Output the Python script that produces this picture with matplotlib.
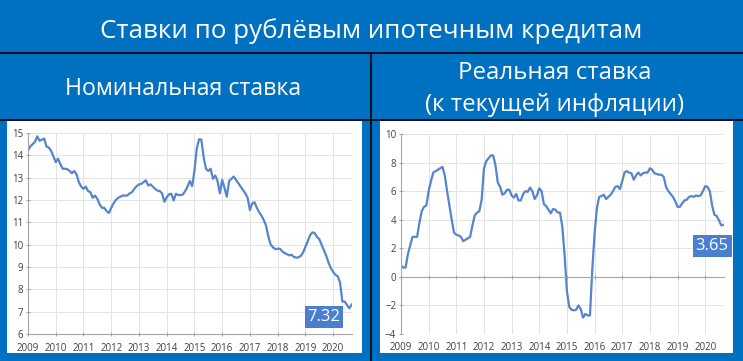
import numpy as np
import matplotlib
matplotlib.use("Agg")
import matplotlib.pyplot as plt
from matplotlib.patches import Rectangle
from matplotlib.lines import Line2D

# monthly data, Jan 2009 .. Sep 2020
nominal = [
    14.22, 14.4, 14.5, 14.6, 14.85, 14.65, 14.7, 14.75, 14.4, 14.35, 14.2, 13.95,
    13.7, 13.85, 13.6, 13.4, 13.4, 13.38, 13.3, 13.2, 13.3, 13.15, 12.8, 12.6,
    12.5, 12.6, 12.4, 12.35, 12.1, 12.2, 12.05, 11.8, 11.65, 11.65, 11.5, 11.42,
    11.65, 11.85, 12.0, 12.1, 12.15, 12.2, 12.2, 12.2, 12.3, 12.35, 12.5, 12.62,
    12.7, 12.72, 12.8, 12.88, 12.65, 12.7, 12.6, 12.5, 12.42, 12.4, 12.3, 11.92,
    12.12, 12.25, 12.28, 11.98, 12.28, 12.22, 12.22, 12.25, 12.4, 12.6, 12.85, 12.62,
    13.3, 14.3, 14.72, 14.7, 13.9, 13.4, 13.3, 13.4, 12.95, 13.1, 12.85, 12.3,
    12.9, 12.55, 12.15, 12.85, 12.95, 13.05, 12.9, 12.75, 12.6, 12.45, 12.3, 12.1,
    11.55, 11.85, 11.9, 11.65, 11.45, 11.3, 11.1, 10.85, 10.35, 10.0, 9.88, 9.8,
    9.82, 9.82, 9.7, 9.62, 9.58, 9.52, 9.55, 9.45, 9.42, 9.43, 9.5, 9.65,
    9.9, 10.15, 10.42, 10.55, 10.52, 10.35, 10.25, 10.0, 9.75, 9.5, 9.2, 8.95,
    8.78, 8.65, 8.58, 8.3, 7.45, 7.45, 7.3, 7.15, 7.32,
]
real = [
    0.8, 0.65, 0.65, 1.6, 2.2, 2.8, 2.8, 2.8, 3.8, 4.6, 4.9, 5.0,
    6.0, 6.7, 7.3, 7.4, 7.5, 7.6, 7.7, 7.1, 6.0, 5.0, 4.0, 3.1,
    2.95, 2.9, 2.8, 2.5, 2.6, 2.7, 2.8, 3.6, 4.3, 4.5, 4.6, 5.4,
    7.6, 8.1, 8.3, 8.5, 8.5, 7.8, 6.6, 6.3, 5.75, 5.85, 6.1, 6.1,
    5.7, 5.55, 5.8, 5.35, 5.35, 5.8, 6.0, 5.95, 6.25, 6.0, 5.45, 5.7,
    6.2, 6.0, 5.1, 4.95, 4.7, 4.45, 4.75, 4.7, 4.5, 4.5, 3.5, 1.5,
    -1.0, -2.1, -2.3, -2.35, -2.3, -2.0, -2.25, -2.85, -2.6, -2.7, -2.7, 0.5,
    3.0, 4.8, 5.6, 5.65, 5.75, 5.45, 5.6, 5.75, 6.0, 6.3, 6.35, 6.15,
    6.7, 7.3, 7.4, 7.3, 7.25, 6.8, 7.1, 7.3, 7.1, 7.25, 7.3, 7.3,
    7.6, 7.5, 7.25, 7.2, 7.15, 7.15, 7.0, 6.3, 6.0, 5.8, 5.6, 5.3,
    4.9, 4.9, 5.15, 5.35, 5.4, 5.6, 5.65, 5.6, 5.7, 5.65, 5.7, 6.0,
    6.35, 6.3, 6.0, 5.0, 4.35, 4.25, 3.95, 3.6, 3.65,
]
years = list(range(2009, 2021))
start_year = 2009

title = "Ставки по рублёвым ипотечным кредитам"
left_title = "Номинальная ставка"
right_title = "Реальная ставка\n(к текущей инфляции)"

BLUE_BG = "#0070C0"
LINE = "#5585CC"
W, H = 743, 361

plt.rcParams["font.family"] = ["Open Sans", "DejaVu Sans"]

fig = plt.figure(figsize=(W / 100, H / 100), dpi=100)
fig.patch.set_facecolor(BLUE_BG)


def px_rect(x0, y0, x1, y1):
    # pixel box (top-left origin) -> figure fraction [l, b, w, h]
    return [x0 / W, (H - y1) / H, (x1 - x0) / W, (y1 - y0) / H]


# white chart panels
for x0, x1 in [(7, 362), (380, 733)]:
    l, b, w, h = px_rect(x0, 121, x1, 353)
    fig.patches.append(Rectangle((l, b), w, h, transform=fig.transFigure,
                                 facecolor="white", edgecolor="none", zorder=-5))

# black separator lines
fig.lines.append(Line2D([0, 1], [1 - 53 / H] * 2, transform=fig.transFigure, color="black", lw=1.2))
fig.lines.append(Line2D([0, 1], [1 - 120 / H] * 2, transform=fig.transFigure, color="black", lw=1.2))
fig.lines.append(Line2D([371 / W] * 2, [0, 1 - 53 / H], transform=fig.transFigure, color="black", lw=1.2))

fig.text(0.5, 1 - 31 / H, title, color="white", fontsize=18.7, ha="center", va="center")
fig.text(183 / W, 1 - 89 / H, left_title, color="white", fontsize=16.7, ha="center", va="center")
fig.text(555 / W, 1 - 89 / H, right_title, color="white", fontsize=17.3, ha="center", va="center",
         linespacing=1.4)

x = start_year + np.arange(len(nominal)) / 12.0
x_end = 2020.68


def style_axes(ax, ylim, yticks):
    ax.set_facecolor("white")
    ax.set_xlim(start_year, x_end)
    ax.set_ylim(*ylim)
    ax.set_yticks(yticks)
    ax.set_xticks(years)
    ax.set_xticklabels([str(y) for y in years])
    ax.grid(True, color="#E3E3E3", lw=0.7)
    ax.set_axisbelow(True)
    for s in ["top", "right"]:
        ax.spines[s].set_visible(False)
    for s in ["left", "bottom"]:
        ax.spines[s].set_color("#A6A6A6")
        ax.spines[s].set_linewidth(0.8)
    ax.tick_params(axis="both", labelsize=7, colors="#A6A6A6", labelcolor="#404040",
                   length=3, width=0.8, direction="inout", pad=2)
    ax.tick_params(axis="x", pad=5)


ax1 = fig.add_axes(px_rect(28, 133, 352, 334))
ax1.plot(x, nominal, color=LINE, lw=1.6)
style_axes(ax1, (6, 15), range(6, 16))
ax1.text(324 / W, 1 - 317 / H, f"{nominal[-1]:.2f}", transform=fig.transFigure,
         ha="center", va="center", color="white", fontsize=12,
         bbox=dict(boxstyle="square,pad=0.18", facecolor="#4A7FD0", edgecolor="none"))

ax2 = fig.add_axes(px_rect(401, 134, 724, 334))
ax2.plot(x, real, color=LINE, lw=1.6)
style_axes(ax2, (-4, 10), range(-4, 11, 2))
ax2.spines["bottom"].set_position(("data", 0))
ax2.tick_params(axis="x", labelbottom=False)
for yr in years:
    ax2.text(yr, -4.55, str(yr), ha="center", va="top", fontsize=7, color="#404040")
ax2.text(712 / W, 1 - 246 / H, f"{real[-1]:.2f}", transform=fig.transFigure,
         ha="center", va="center", color="white", fontsize=12,
         bbox=dict(boxstyle="square,pad=0.18", facecolor="#4A7FD0", edgecolor="none"))

fig.savefig("out.png", dpi=100, facecolor=fig.get_facecolor())
